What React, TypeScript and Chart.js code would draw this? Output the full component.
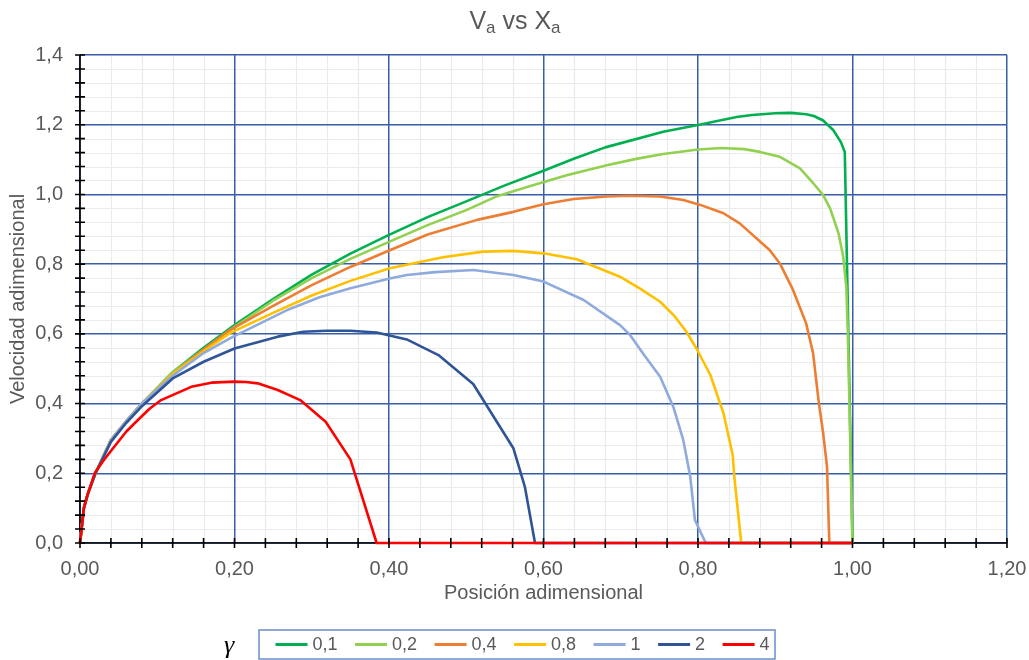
import React, { useEffect, useRef } from 'react';
import { Chart, registerables } from 'chart.js';

Chart.register(...registerables);

// ---------- DATA ----------
const SERIES_LABELS = ['0,1', '0,2', '0,4', '0,8', '1', '2', '4'];

const X_TICK_LABELS = ['0,00', '0,20', '0,40', '0,60', '0,80', '1,00', '1,20'];
const Y_TICK_LABELS = ['0,0', '0,2', '0,4', '0,6', '0,8', '1,0', '1,2', '1,4'];

const x01 = [0, 0.005, 0.01, 0.02, 0.04, 0.06, 0.08, 0.12, 0.16, 0.2, 0.25, 0.3, 0.35, 0.4, 0.45, 0.5, 0.55, 0.6, 0.64, 0.68, 0.755, 0.8, 0.85, 0.87, 0.9, 0.92, 0.94, 0.95, 0.962, 0.975, 0.985, 0.99, 1.0];
const v01 = [0, 0.1, 0.14, 0.2, 0.295, 0.35, 0.4, 0.49, 0.56, 0.625, 0.7, 0.77, 0.83, 0.884, 0.935, 0.98, 1.026, 1.068, 1.103, 1.135, 1.18, 1.199, 1.222, 1.228, 1.233, 1.234, 1.23, 1.225, 1.212, 1.185, 1.15, 1.122, 0];

const x02 = [0, 0.005, 0.01, 0.02, 0.04, 0.06, 0.08, 0.12, 0.16, 0.2, 0.25, 0.3, 0.35, 0.4, 0.45, 0.5, 0.54, 0.583, 0.63, 0.682, 0.72, 0.755, 0.8, 0.83, 0.86, 0.88, 0.906, 0.932, 0.95, 0.962, 0.971, 0.982, 0.988, 0.992, 0.994, 1.0];
const v02 = [0, 0.1, 0.14, 0.2, 0.295, 0.35, 0.4, 0.49, 0.555, 0.62, 0.695, 0.76, 0.815, 0.864, 0.912, 0.955, 0.995, 1.024, 1.055, 1.084, 1.102, 1.116, 1.129, 1.133, 1.13, 1.122, 1.108, 1.075, 1.03, 0.998, 0.96, 0.888, 0.821, 0.735, 0.6, 0];

const x04 = [0, 0.005, 0.01, 0.02, 0.04, 0.06, 0.08, 0.12, 0.16, 0.194, 0.25, 0.3, 0.35, 0.401, 0.45, 0.514, 0.561, 0.6, 0.639, 0.682, 0.712, 0.751, 0.781, 0.803, 0.833, 0.854, 0.893, 0.906, 0.923, 0.94, 0.949, 0.956, 0.962, 0.967, 0.97, 1.0];
const v04 = [0, 0.1, 0.14, 0.2, 0.295, 0.35, 0.4, 0.485, 0.555, 0.611, 0.68, 0.74, 0.792, 0.84, 0.885, 0.927, 0.95, 0.972, 0.987, 0.994, 0.996, 0.994, 0.984, 0.97, 0.946, 0.917, 0.84, 0.802, 0.726, 0.63, 0.544, 0.41, 0.315, 0.219, 0, 0];

const x08 = [0, 0.005, 0.01, 0.02, 0.04, 0.06, 0.08, 0.12, 0.16, 0.194, 0.25, 0.3, 0.35, 0.401, 0.47, 0.522, 0.561, 0.6, 0.643, 0.699, 0.725, 0.751, 0.77, 0.785, 0.798, 0.816, 0.833, 0.845, 0.847, 0.856, 1.0];
const v08 = [0, 0.1, 0.14, 0.2, 0.295, 0.35, 0.4, 0.485, 0.55, 0.602, 0.66, 0.71, 0.752, 0.788, 0.82, 0.836, 0.838, 0.831, 0.814, 0.764, 0.73, 0.692, 0.65, 0.606, 0.558, 0.482, 0.372, 0.252, 0.19, 0, 0];

const x1 = [0, 0.005, 0.01, 0.02, 0.04, 0.06, 0.08, 0.12, 0.16, 0.194, 0.27, 0.31, 0.35, 0.401, 0.423, 0.46, 0.509, 0.561, 0.6, 0.652, 0.699, 0.712, 0.73, 0.751, 0.768, 0.781, 0.79, 0.796, 0.81, 1.0];
const v1 = [0, 0.1, 0.14, 0.2, 0.295, 0.35, 0.4, 0.48, 0.545, 0.587, 0.67, 0.705, 0.731, 0.759, 0.769, 0.777, 0.783, 0.769, 0.75, 0.697, 0.625, 0.597, 0.54, 0.477, 0.391, 0.295, 0.19, 0.066, 0, 0];

const x2 = [0, 0.005, 0.01, 0.02, 0.04, 0.06, 0.079, 0.12, 0.16, 0.2, 0.256, 0.289, 0.319, 0.35, 0.384, 0.423, 0.464, 0.509, 0.561, 0.576, 0.589, 1.0];
const v2 = [0, 0.1, 0.14, 0.2, 0.29, 0.345, 0.39, 0.472, 0.52, 0.558, 0.592, 0.606, 0.609, 0.609, 0.604, 0.584, 0.539, 0.456, 0.272, 0.16, 0, 0];

const x4 = [0, 0.005, 0.01, 0.019, 0.03, 0.041, 0.06, 0.075, 0.09, 0.105, 0.144, 0.17, 0.2, 0.215, 0.23, 0.256, 0.285, 0.318, 0.35, 0.384, 1.0];
const v4 = [0, 0.1, 0.14, 0.2, 0.235, 0.267, 0.32, 0.353, 0.385, 0.41, 0.448, 0.46, 0.463, 0.462, 0.458, 0.439, 0.41, 0.348, 0.24, 0, 0];

const SERIES_X = [x01, x02, x04, x08, x1, x2, x4];
const SERIES_V = [v01, v02, v04, v08, v1, v2, v4];

// ---------- STYLE ----------
const COLORS = ['#00B050', '#92D050', '#ED7D31', '#FFC000', '#8FAADC', '#2F5597', '#FF0000'];
const FONT = "'Liberation Sans', Arial, sans-serif";
const TEXT = '#595959';
const MAJOR = '#3A5DA8';
const MINOR_C = '#EBEBEB';
const MINOR_STEP = 0.04;

const decor = {
  id: 'decor',
  beforeDraw(chart: any) {
    const { ctx, chartArea: a, scales } = chart;
    const xs = scales.x, ys = scales.y;
    ctx.save();
    ctx.fillStyle = '#fff';
    ctx.fillRect(0, 0, chart.width, chart.height);
    ctx.strokeStyle = MINOR_C;
    ctx.lineWidth = 1.2;
    ctx.beginPath();
    for (let i = 1; i < 30; i++) {
      if (i % 5 === 0) continue;
      const px = Math.round(xs.getPixelForValue(i * MINOR_STEP)) + 0.5;
      ctx.moveTo(px, a.top); ctx.lineTo(px, a.bottom);
    }
    for (let i = 1; i < 35; i++) {
      if (i % 5 === 0) continue;
      const py = Math.round(ys.getPixelForValue(i * MINOR_STEP)) + 0.5;
      ctx.moveTo(a.left, py); ctx.lineTo(a.right, py);
    }
    ctx.stroke();
    ctx.restore();
  },
  beforeDatasetsDraw(chart: any) {
    const { ctx, chartArea: a } = chart;
    ctx.save();
    ctx.strokeStyle = '#000';
    ctx.lineWidth = 1.6;
    ctx.beginPath();
    ctx.moveTo(a.left, a.top); ctx.lineTo(a.left, a.bottom); ctx.lineTo(a.right, a.bottom);
    ctx.stroke();
    ctx.restore();
  },
  afterDatasetsDraw(chart: any) {
    const { ctx, chartArea: a, scales } = chart;
    const xs = scales.x, ys = scales.y;
    ctx.save();
    // tick marks
    ctx.strokeStyle = '#000';
    ctx.lineWidth = 1.6;
    ctx.beginPath();
    for (let i = 0; i <= 30; i++) {
      const px = xs.getPixelForValue(i * MINOR_STEP);
      ctx.moveTo(px, a.bottom - 5); ctx.lineTo(px, a.bottom + 5);
    }
    for (let i = 0; i <= 35; i++) {
      const py = ys.getPixelForValue(i * MINOR_STEP);
      ctx.moveTo(a.left - 5, py); ctx.lineTo(a.left + 5, py);
    }
    ctx.stroke();

    // title with subscripts
    const big = `25px ${FONT}`, small = `17px ${FONT}`;
    const parts: [string, boolean][] = [['V', false], ['a', true], [' vs X', false], ['a', true]];
    let total = 0;
    const widths = parts.map(([t, sub]) => { ctx.font = sub ? small : big; const w = ctx.measureText(t).width; total += w; return w; });
    let tx = 515 - total / 2;
    ctx.fillStyle = TEXT;
    ctx.textBaseline = 'alphabetic';
    ctx.textAlign = 'left';
    parts.forEach(([t, sub], i) => {
      ctx.font = sub ? small : big;
      ctx.fillText(t, tx, sub ? 33 : 29);
      tx += widths[i];
    });

    // legend
    ctx.strokeStyle = '#6A8CCB';
    ctx.lineWidth = 1.5;
    ctx.strokeRect(259, 630, 516, 29);
    ctx.fillStyle = '#000';
    ctx.font = `italic 26px 'Liberation Serif', serif`;
    ctx.textBaseline = 'middle';
    ctx.fillText('γ', 224, 646);
    let lx = 275.5;
    const ly = 644.5;
    ctx.font = `18px ${FONT}`;
    SERIES_LABELS.forEach((lab, i) => {
      ctx.strokeStyle = COLORS[i];
      ctx.lineWidth = 3;
      ctx.beginPath();
      ctx.moveTo(lx, ly); ctx.lineTo(lx + 32, ly);
      ctx.stroke();
      ctx.fillStyle = TEXT;
      ctx.fillText(lab, lx + 37, ly + 1);
      lx += 37 + ctx.measureText(lab).width + 17.5;
    });
    ctx.restore();
  },
};

export default function App() {
  const ref = useRef<HTMLCanvasElement | null>(null);

  useEffect(() => {
    if (!ref.current) return;
    const datasets = SERIES_LABELS.map((lab, i) => ({
      label: lab,
      data: SERIES_X[i].map((xv, j) => ({ x: xv, y: SERIES_V[i][j] })),
      borderColor: COLORS[i],
      backgroundColor: COLORS[i],
      borderWidth: 2.6,
      pointRadius: 0,
      pointHoverRadius: 0,
      showLine: true,
      tension: 0,
      fill: false,
      clip: false as any,
      borderJoinStyle: 'round' as const,
      order: SERIES_LABELS.length - 1 - i,
    }));

    const chart = new Chart(ref.current, {
      type: 'scatter',
      data: { datasets },
      plugins: [decor],
      options: {
        animation: false,
        responsive: false,
        devicePixelRatio: 1,
        events: [],
        layout: { padding: { top: 55, right: 22, bottom: 0, left: 0 } },
        plugins: { legend: { display: false }, title: { display: false }, tooltip: { enabled: false } },
        scales: {
          x: {
            type: 'linear',
            min: 0,
            max: 1.2,
            afterFit(s: any) { s.height = 117; s.paddingLeft = 0; s.paddingRight = 0; },
            ticks: {
              stepSize: 0.2,
              autoSkip: false,
              maxRotation: 0,
              padding: 14,
              color: TEXT,
              font: { family: FONT, size: 20 },
              callback: (_v: any, idx: number) => X_TICK_LABELS[idx],
            },
            grid: { color: MAJOR, lineWidth: 1.5, drawTicks: false },
            border: { display: false },
            title: {
              display: true,
              text: 'Posición adimensional',
              color: TEXT,
              font: { family: FONT, size: 20 },
              padding: { top: 0, bottom: 55 },
            },
          },
          y: {
            type: 'linear',
            min: 0,
            max: 1.4,
            afterFit(s: any) { s.width = 80; s.paddingTop = 0; s.paddingBottom = 0; },
            ticks: {
              stepSize: 0.2,
              autoSkip: false,
              padding: 17,
              color: TEXT,
              font: { family: FONT, size: 20 },
              callback: (_v: any, idx: number) => Y_TICK_LABELS[idx],
            },
            grid: { color: MAJOR, lineWidth: 1.5, drawTicks: false },
            border: { display: false },
            title: {
              display: true,
              text: 'Velocidad adimensional',
              color: TEXT,
              font: { family: FONT, size: 20 },
              padding: { top: 6, bottom: 0 },
            },
          },
        },
      },
    });
    return () => chart.destroy();
  }, []);

  return (
    <div style={{ position: 'fixed', left: 0, top: 0, width: 1029, height: 660, background: '#fff' }}>
      <canvas ref={ref} width={1029} height={660} style={{ width: 1029, height: 660, display: 'block' }} />
    </div>
  );
}
